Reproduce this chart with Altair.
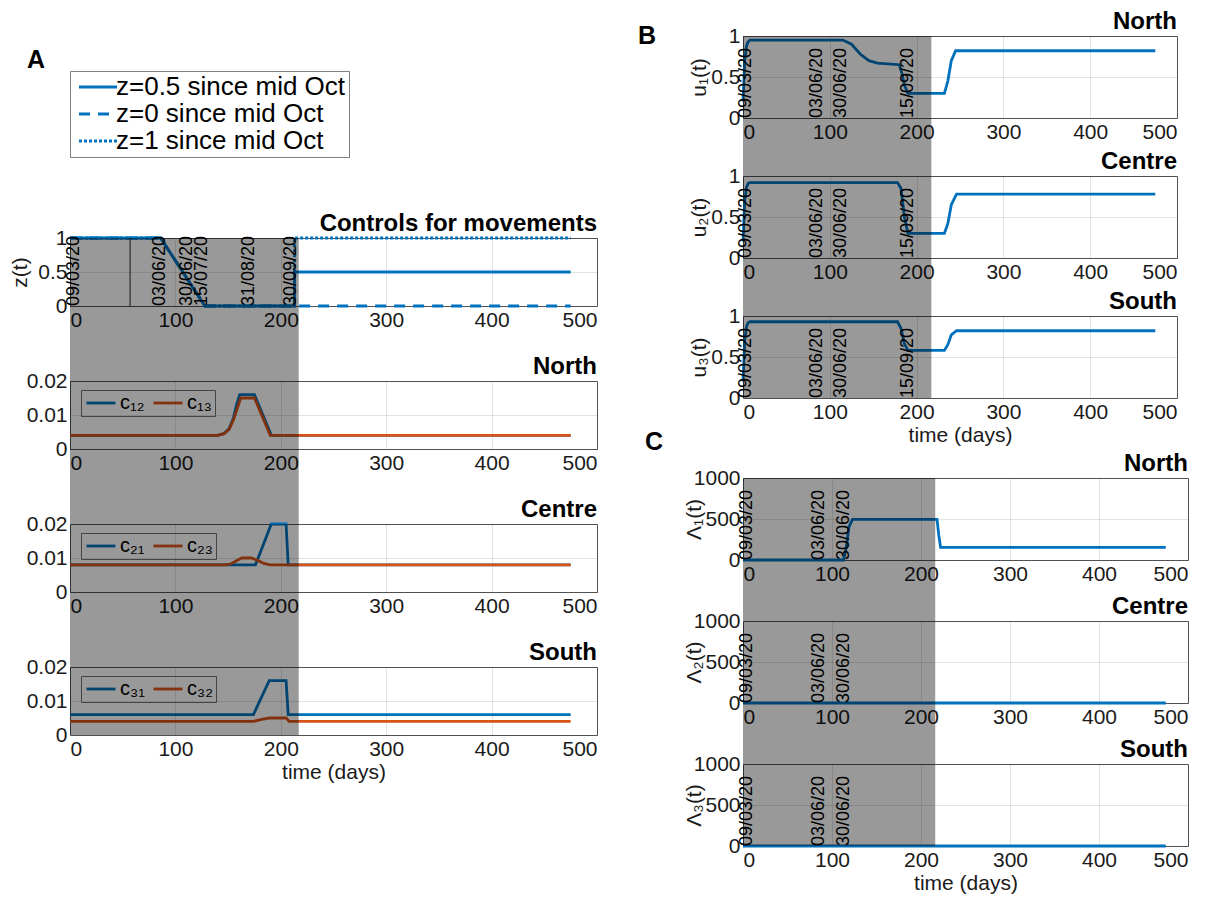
import altair as alt
import pandas as pd

FONT = "Liberation Sans"
BLUE = "#0072BD"
ORANGE = "#D95319"
DARK_BLUE = "#00446F"
DARK_ORANGE = "#82320F"
LINE_SYMBOL = "M-2,0L2,0"
LW = 2.8

# ---------------- values ----------------
x_ticks = [0, 100, 200, 300, 400, 500]

# Panel A: controls for movements z(t)
z_t = [0, 86, 128, 213, 213, 475]
z_half = [1, 1, 0, 0, 0.5, 0.5]
z_zero = [1, 1, 0, 0, 0, 0]
z_one = [1, 1, 0, 0, 1, 1]
z_names = ["z=0.5 since mid Oct", "z=0 since mid Oct", "z=1 since mid Oct"]
z_dashes = [[1, 0], [11, 8], [3, 2]]

# Panel A: North c12, c13
c12_t = [0, 140, 146, 151, 155, 158, 161, 175, 191, 475]
c12 = [0.004, 0.004, 0.0045, 0.006, 0.009, 0.013, 0.016, 0.016, 0.004, 0.004]
c13_t = [0, 140, 146, 151, 155, 159, 162, 175, 190, 475]
c13 = [0.004, 0.004, 0.0045, 0.0058, 0.0085, 0.0122, 0.015, 0.015, 0.004, 0.004]
# Panel A: Centre c21, c23
c21_t = [0, 176, 191, 205, 207, 475]
c21 = [0.008, 0.008, 0.02, 0.02, 0.008, 0.008]
c23_t = [0, 148, 153, 158, 163, 172, 178, 184, 190, 475]
c23 = [0.008, 0.008, 0.0083, 0.0092, 0.01, 0.01, 0.0093, 0.0084, 0.008, 0.008]
# Panel A: South c31, c32
c31_t = [0, 174, 189, 205, 207, 475]
c31 = [0.006, 0.006, 0.016, 0.016, 0.006, 0.006]
c32_t = [0, 174, 182, 189, 205, 208, 475]
c32 = [0.004, 0.004, 0.0046, 0.005, 0.005, 0.004, 0.004]

# Panel B: u1, u2, u3
u1_t = [0, 2, 4, 6, 8, 115, 125, 135, 145, 155, 180, 183, 186, 190, 232, 236, 240, 245, 475]
u1 = [0.2, 0.7, 0.88, 0.93, 0.95, 0.95, 0.9, 0.78, 0.7, 0.67, 0.65, 0.55, 0.4, 0.3, 0.3, 0.45, 0.7, 0.82, 0.82]
u2_t = [0, 2, 4, 6, 8, 178, 182, 186, 190, 232, 236, 240, 246, 475]
u2 = [0.2, 0.7, 0.86, 0.91, 0.92, 0.92, 0.85, 0.5, 0.3, 0.3, 0.42, 0.65, 0.78, 0.78]
u3_t = [0, 2, 4, 6, 8, 178, 182, 186, 190, 232, 236, 240, 246, 475]
u3 = [0.2, 0.7, 0.87, 0.92, 0.93, 0.93, 0.85, 0.66, 0.58, 0.58, 0.65, 0.77, 0.82, 0.82]

# Panel C: Lambda1, Lambda2, Lambda3
lam1_t = [0, 113, 116, 119, 123, 218, 220, 222, 475]
lam1 = [0, 0, 150, 400, 495, 495, 300, 155, 155]
lam2_t = [0, 475]
lam2 = [0, 0]
lam3_t = [0, 475]
lam3 = [0, 0]

# date annotations
a_dates = ["09/03/20", "03/06/20", "30/06/20", "15/07/20", "31/08/20", "30/09/20"]
a_dates_t = [4, 85, 111, 125, 170, 210]
a_marker_t = [57]
b_dates = ["09/03/20", "03/06/20", "30/06/20", "15/09/20"]
b_dates_t = [4, 85, 113, 190]
c_dates = ["09/03/20", "03/06/20", "30/06/20"]
c_dates_t = [4, 85, 113]

grey_end_ab = 217
grey_end_c = 216


def frame(series):
    rows = []
    for name, ts, vs in series:
        for i, (t, v) in enumerate(zip(ts, vs)):
            rows.append({"t": t, "v": v, "s": name, "i": i})
    return pd.DataFrame(rows)


def panel(df, width, height, ydomain, yticks, title, yformat="~g", ytitle=None, ytitle_x=0,
          xtitle=None, grey_end=217, grey_below=0, dates=None, dates_t=None,
          color=None, dash=None, markers=None, legend_color=None):
    xs = alt.Scale(domain=[0, 500], nice=False, zero=False)
    ys = alt.Scale(domain=ydomain, nice=False, zero=False)
    xk = dict(values=x_ticks, format="d", labelOverlap=False, tickCount=12)
    if xtitle:
        xk.update(title=xtitle, titlePadding=2)
    else:
        xk.update(title=None)
    yk = dict(values=yticks, format=yformat, labelOverlap=False, labelFlush=False, tickCount=6)
    if ytitle:
        yk.update(title=ytitle, titleAngle=270, titleBaseline="bottom", titleAlign="center",
                  titleX=ytitle_x, titleY=height / 2)
    else:
        yk.update(title=None)
    X = alt.X("t:Q", scale=xs, axis=alt.Axis(**xk))
    Y = alt.Y("v:Q", scale=ys, axis=alt.Axis(**yk))
    enc = dict(x=X, y=Y, order=alt.Order("i:Q"))
    mk = dict(strokeWidth=LW)
    if color is not None:
        enc["color"] = color
    else:
        mk["color"] = BLUE
    if dash is not None:
        enc["strokeDash"] = dash
    layers = [alt.Chart(df).mark_line(**mk).encode(**enc)]
    if legend_color is not None:
        layers.append(alt.Chart(df).mark_line(opacity=0, strokeWidth=LW).encode(
            x="t:Q", y="v:Q", order=alt.Order("i:Q"), color=legend_color))
    if markers:
        layers.append(alt.Chart(pd.DataFrame({"t": markers})).mark_rule(color="#222222", strokeWidth=1)
                      .encode(x="t:Q"))
    if dates:
        ddf = pd.DataFrame({"t": dates_t, "v": [ydomain[0]] * len(dates_t), "label": dates})
        layers.append(alt.Chart(ddf).mark_text(angle=270, align="left", baseline="middle",
                                               fontSize=18, color="black", font=FONT)
                      .encode(x="t:Q", y="v:Q", text="label:N"))
    gdf = pd.DataFrame({"t": [0], "t2": [grey_end]})
    layers.append(alt.Chart(gdf).mark_rect(color="black", opacity=0.4)
                  .encode(x="t:Q", x2="t2:Q", y=alt.value(0), y2=alt.value(height + grey_below)))
    out = alt.layer(*layers).properties(
        width=width, height=height,
        title=alt.TitleParams(title, anchor="end", frame="group"))
    if legend_color is not None:
        out = out.resolve_scale(color="independent")
    return out


one = pd.DataFrame({"a": [0]})


def box(x1, y1):
    # invisible layout anchor (keeps the page origin fixed)
    return alt.Chart(one).mark_rect(opacity=0).encode(
        x=alt.value(x1), x2=alt.value(x1 + 1), y=alt.value(y1), y2=alt.value(y1 + 1))


def letter(txt, px, py):
    return alt.Chart(one).mark_text(fontSize=25, fontWeight="bold", align="left",
                                    baseline="alphabetic", color="black", font=FONT).encode(
        x=alt.value(px), y=alt.value(py), text=alt.value(txt))


def spacer(w, h, extra=()):
    return alt.layer(box(0, 0), *extra).properties(
        width=w, height=h, view=alt.ViewBackground(strokeOpacity=0))


# ---------------- column A ----------------
WA, HA, GAP_A = 527, 68, 75
z_df = frame([(z_names[0], z_t, z_half), (z_names[1], z_t, z_zero), (z_names[2], z_t, z_one)])

spacer_lines = alt.Chart(z_df).mark_line(opacity=0).encode(
    x=alt.X("t:Q", axis=None), y=alt.Y("v:Q", axis=None), order=alt.Order("i:Q"),
    strokeDash=alt.StrokeDash("s:N", scale=alt.Scale(domain=z_names, range=z_dashes),
                              legend=alt.Legend(title=None, orient="none", legendX=0, legendY=35,
                                                symbolType=LINE_SYMBOL, symbolSize=361,
                                                symbolOffset=12, symbolStrokeWidth=LW,
                                                symbolStrokeColor=BLUE, symbolOpacity=1,
                                                labelFontSize=26, labelFont=FONT,
                                                labelColor="black", labelLimit=0, labelOffset=5,
                                                rowPadding=1, padding=3, strokeColor="#808080",
                                                fillColor="white")))

A0 = alt.layer(spacer_lines, letter("A", -43, 32), box(-70, -36), box(560, -36)).properties(
    width=WA, height=127, view=alt.ViewBackground(strokeOpacity=0))

A1 = panel(z_df, WA, HA, [0, 1], [0, 0.5, 1], "Controls for movements", ytitle="z(t)", ytitle_x=-40,
           grey_end=grey_end_ab, grey_below=GAP_A, dates=a_dates, dates_t=a_dates_t,
           dash=alt.StrokeDash("s:N", scale=alt.Scale(domain=z_names, range=z_dashes), legend=None),
           markers=a_marker_t)


def pair_panel(na, ta, va, nb, tb, vb, title, below, xtitle=None):
    df = frame([(na, ta, va), (nb, tb, vb)])
    col = alt.Color("s:N", scale=alt.Scale(domain=[na, nb], range=[BLUE, ORANGE]), legend=None)
    leg = alt.Color("s:N", scale=alt.Scale(domain=[na, nb], range=[DARK_BLUE, DARK_ORANGE]),
                    legend=alt.Legend(title=None, orient="none", legendX=11, legendY=9,
                                      direction="horizontal", symbolType=LINE_SYMBOL, symbolSize=210,
                                      symbolOffset=7, symbolStrokeWidth=LW, symbolOpacity=1,
                                      labelFontSize=20, labelFont=FONT, labelColor="black",
                                      labelOffset=9, columnPadding=2, padding=3,
                                      strokeColor="#444444"))
    return panel(df, WA, HA, [0, 0.02], [0, 0.01, 0.02], title, xtitle=xtitle,
                 grey_end=grey_end_ab, grey_below=below, color=col, legend_color=leg)


A2 = pair_panel("c₁₂", c12_t, c12, "c₁₃", c13_t, c13, "North", GAP_A)
A3 = pair_panel("c₂₁", c21_t, c21, "c₂₃", c23_t, c23, "Centre", GAP_A)
A4 = pair_panel("c₃₁", c31_t, c31, "c₃₂", c32_t, c32, "South", 0, xtitle="time (days)")

RES = dict(x="independent", y="independent", color="independent", strokeDash="independent")
colA = alt.vconcat(A0, A1, A2, A3, A4, spacing=GAP_A, bounds="flush").resolve_scale(**RES)

# ---------------- column B / C ----------------
WB, WC, HB = 434, 445, 82
GAP_B, GAP_BC, GAP_C = 58, 80, 61


def u_panel(name, ts, vs, title, ytitle, below, xtitle=None):
    return panel(frame([(name, ts, vs)]), WB, HB, [0, 1], [0, 0.5, 1], title, ytitle=ytitle, ytitle_x=-34,
                 xtitle=xtitle, grey_end=grey_end_ab, grey_below=below, dates=b_dates, dates_t=b_dates_t)


def l_panel(name, ts, vs, title, ytitle, below, xtitle=None):
    return panel(frame([(name, ts, vs)]), WC, HB, [0, 1000], [0, 500, 1000], title, yformat="d",
                 ytitle=ytitle, ytitle_x=-39, xtitle=xtitle, grey_end=grey_end_c, grey_below=below,
                 dates=c_dates, dates_t=c_dates_t)


B1 = u_panel("u1", u1_t, u1, "North", "u₁(t)", GAP_B)
B2 = u_panel("u2", u2_t, u2, "Centre", "u₂(t)", GAP_B)
B3 = u_panel("u3", u3_t, u3, "South", "u₃(t)", 0, xtitle="time (days)")
C1 = l_panel("l1", lam1_t, lam1, "North", "Λ₁(t)", GAP_C)
C2 = l_panel("l2", lam2_t, lam2, "Centre", "Λ₂(t)", GAP_C)
C3 = l_panel("l3", lam3_t, lam3, "South", "Λ₃(t)", 0, xtitle="time (days)")

# gap between B and C holds the panel letters and the column's layout anchor
gap_bc = spacer(WB, GAP_BC, extra=[letter("B", -105, -354), letter("C", -98, 52), box(-110, -398)])

colBC = alt.vconcat(B1, spacer(WB, GAP_B), B2, spacer(WB, GAP_B), B3, gap_bc, C1, spacer(WC, GAP_C),
                    C2, spacer(WC, GAP_C), C3, spacing=0, bounds="flush").resolve_scale(**RES)

chart = (
    alt.hconcat(colA, colBC, spacing=2)
    .resolve_scale(**RES)
    .properties(padding=0, background="white")
    .configure_view(stroke="#5c5c5c", strokeWidth=1)
    .configure_axis(labelFont=FONT, labelFontSize=21, labelColor="#1a1a1a", titleFont=FONT,
                    titleFontSize=21, titleFontWeight="normal", titleColor="#1a1a1a",
                    grid=True, gridColor="#000000", gridOpacity=0.11, gridWidth=1, domain=False,
                    ticks=False, tickSize=0, labelPadding=3, labelOverlap=False, zindex=1)
    .configure_title(font=FONT, fontSize=24, fontWeight="bold", anchor="end", offset=-9,
                     color="black", frame="group")
    .configure_legend(labelFont=FONT)
    .configure_text(font=FONT)
)

chart.save("out.html", embed_options={"renderer": "svg", "actions": False})
